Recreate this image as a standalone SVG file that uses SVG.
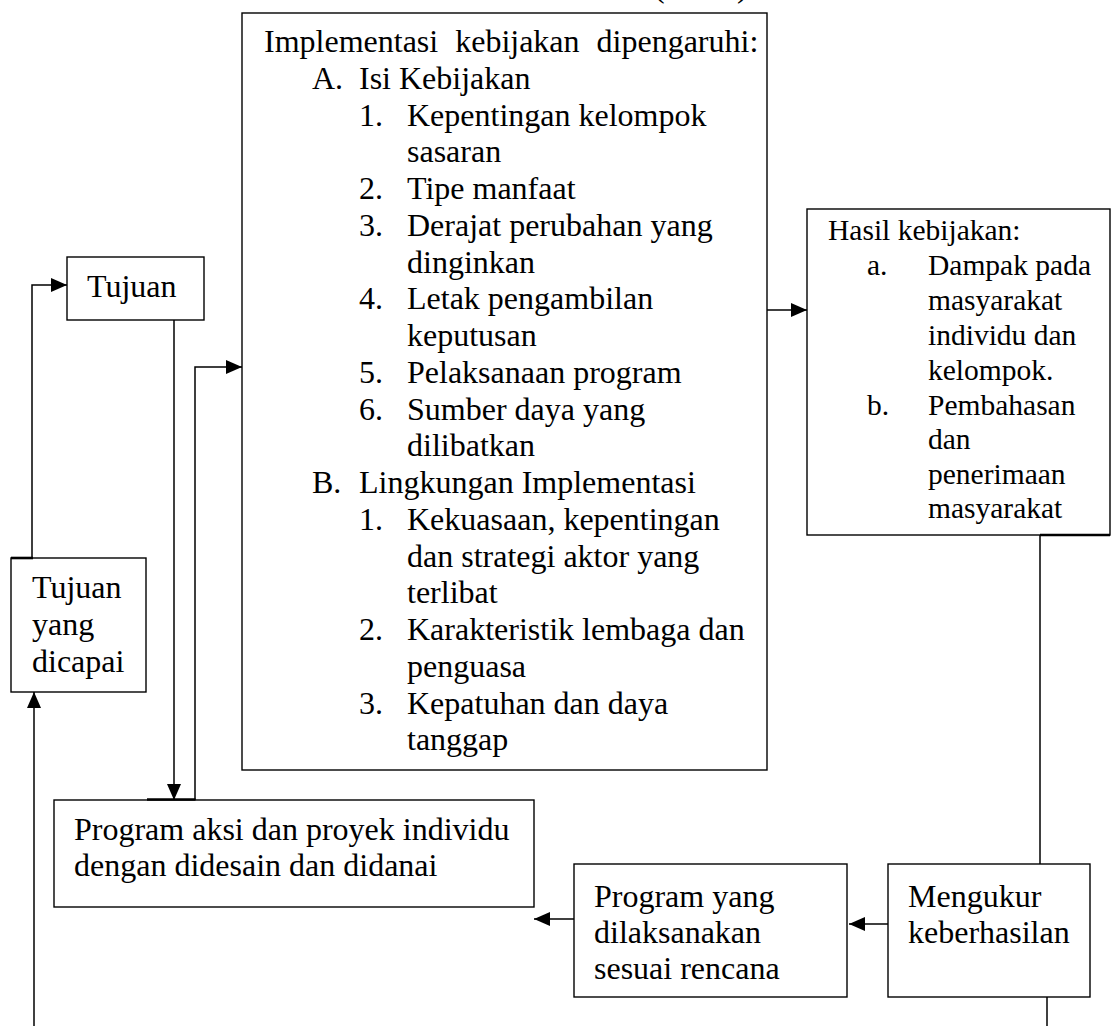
<svg xmlns="http://www.w3.org/2000/svg" width="1112" height="1026" viewBox="0 0 1112 1026">
<defs>
<style>
.box{fill:#fff;stroke:#000;stroke-width:1.4}
.t{font-family:"Liberation Serif","Times New Roman",serif;font-size:32px;fill:#000}
.s{font-family:"Liberation Serif","Times New Roman",serif;font-size:29.5px;fill:#000}
.c{fill:none;stroke:#000;stroke-width:1.5}
.k{fill:none;stroke:#000;stroke-width:2.6}
</style>
<marker id="ah" viewBox="0 0 16 14" refX="16" refY="7" markerWidth="16" markerHeight="14" markerUnits="userSpaceOnUse" orient="auto">
<path d="M0,0 L16,7 L0,14 Z" fill="#000"/>
</marker>
</defs>
<rect width="1112" height="1026" fill="#fff"/>
<text class="t" x="654" y="-3">(</text>
<text class="t" x="737" y="-3">)</text>

<g id="n-impl">
<rect class="box" x="242" y="13" width="525" height="757"/>
<text class="t" x="264" y="52" word-spacing="9">Implementasi kebijakan dipengaruhi:</text>
<text class="t" x="312" y="88.75">A.</text><text class="t" x="359" y="88.75">Isi Kebijakan</text>
<text class="t" x="359" y="125.5">1.</text><text class="t" x="407" y="125.5">Kepentingan kelompok</text>
<text class="t" x="407" y="162.25">sasaran</text>
<text class="t" x="359" y="199">2.</text><text class="t" x="407" y="199">Tipe manfaat</text>
<text class="t" x="359" y="235.75">3.</text><text class="t" x="407" y="235.75">Derajat perubahan yang</text>
<text class="t" x="407" y="272.5">dinginkan</text>
<text class="t" x="359" y="309.25">4.</text><text class="t" x="407" y="309.25">Letak pengambilan</text>
<text class="t" x="407" y="346">keputusan</text>
<text class="t" x="359" y="382.75">5.</text><text class="t" x="407" y="382.75">Pelaksanaan program</text>
<text class="t" x="359" y="419.5">6.</text><text class="t" x="407" y="419.5">Sumber daya yang</text>
<text class="t" x="407" y="456.25">dilibatkan</text>
<text class="t" x="312" y="493">B.</text><text class="t" x="359" y="493">Lingkungan Implementasi</text>
<text class="t" x="359" y="529.75">1.</text><text class="t" x="407" y="529.75">Kekuasaan, kepentingan</text>
<text class="t" x="407" y="566.5">dan strategi aktor yang</text>
<text class="t" x="407" y="603.25">terlibat</text>
<text class="t" x="359" y="640">2.</text><text class="t" x="407" y="640">Karakteristik lembaga dan</text>
<text class="t" x="407" y="676.75">penguasa</text>
<text class="t" x="359" y="713.5">3.</text><text class="t" x="407" y="713.5">Kepatuhan dan daya</text>
<text class="t" x="407" y="750.25">tanggap</text>
</g>

<g id="n-hasil">
<rect class="box" x="807" y="209" width="303" height="326"/>
<text class="s" x="828" y="240">Hasil kebijakan:</text>
<text class="s" x="867" y="275">a.</text><text class="s" x="928" y="275">Dampak pada</text>
<text class="s" x="928" y="310">masyarakat</text>
<text class="s" x="928" y="345">individu dan</text>
<text class="s" x="928" y="380">kelompok.</text>
<text class="s" x="867" y="415">b.</text><text class="s" x="928" y="415">Pembahasan</text>
<text class="s" x="928" y="449">dan</text>
<text class="s" x="928" y="484">penerimaan</text>
<text class="s" x="928" y="518">masyarakat</text>
</g>

<g id="n-tujuan">
<rect class="box" x="67" y="257" width="137" height="63"/>
<text class="t" x="87" y="297">Tujuan</text>
</g>

<g id="n-tujuan-dicapai">
<rect class="box" x="11" y="558" width="135" height="134"/>
<text class="t" x="32" y="598">Tujuan</text>
<text class="t" x="32" y="635">yang</text>
<text class="t" x="32" y="672">dicapai</text>
</g>

<g id="n-program-aksi">
<rect class="box" x="54" y="800" width="480" height="107"/>
<text class="t" x="74" y="840">Program aksi dan proyek individu</text>
<text class="t" x="74" y="876">dengan didesain dan didanai</text>
</g>

<g id="n-program-yang">
<rect class="box" x="574" y="864" width="273" height="133"/>
<text class="t" x="594" y="907">Program yang</text>
<text class="t" x="594" y="943">dilaksanakan</text>
<text class="t" x="594" y="979">sesuai rencana</text>
</g>

<g id="n-mengukur">
<rect class="box" x="888" y="864" width="202" height="133"/>
<text class="t" x="908" y="907">Mengukur</text>
<text class="t" x="908" y="943">keberhasilan</text>
</g>

<g id="connectors">
<path class="c" d="M34,1026 V692" marker-end="url(#ah)"/>
<path class="c" d="M32,558 V285 H67" marker-end="url(#ah)"/>
<path class="k" d="M11,558 H33"/>
<path class="c" d="M174,320 V800" marker-end="url(#ah)"/>
<path class="c" d="M195,800 V367 H242" marker-end="url(#ah)"/>
<path class="k" d="M147,799.5 H195.5"/>
<path class="c" d="M767,310 H807" marker-end="url(#ah)"/>
<path class="c" d="M1040,535 V864"/>
<path class="k" d="M1040,535 H1110" stroke-width="2.2"/>
<path class="c" d="M888,924 H849" marker-end="url(#ah)"/>
<path class="c" d="M574,919 H534" marker-end="url(#ah)"/>
<path class="c" d="M1047,997 V1026"/>
</g>
</svg>
